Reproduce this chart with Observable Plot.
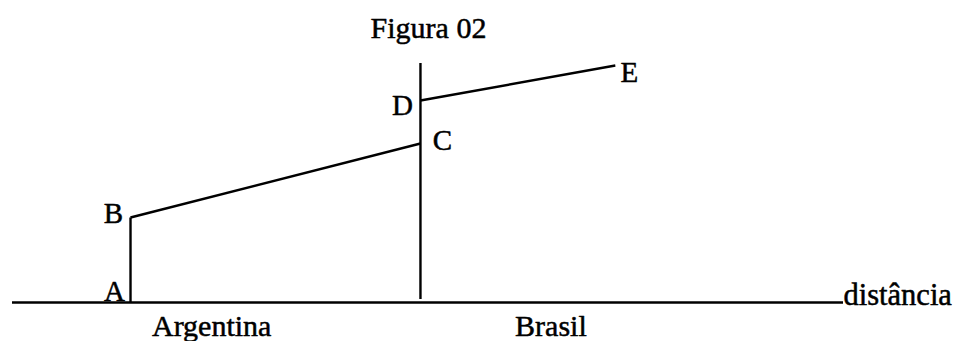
<!DOCTYPE html>
<html>
<head>
<meta charset="utf-8">
<script src="https://cdn.jsdelivr.net/npm/d3@7"></script>
<script src="https://cdn.jsdelivr.net/npm/@observablehq/plot@0.6"></script>
<style>
  html, body { margin: 0; padding: 0; background: #fff; }
  #chart svg { display: block; }
</style>
</head>
<body>
<div id="chart"></div>
<script>
// Points of the figure (distance, value)
const pointNames = ["A", "B", "C", "D", "E"];
const pointX = [0, 0, 100, 100, 167.2];
const pointY = [0, 85, 159, 202, 237];
// Segments drawn between named points
const segmentFrom = ["A", "B", "D"];
const segmentTo = ["B", "C", "E"];
// Border (frontier) position and extent
const borderX = 100;
const borderY = [3, 239];
// Distance axis extent
const axisX = [-40.7, 245.9];
const axisLabel = "distância";
// Regions
const regionNames = ["Argentina", "Brasil"];
const regionX = [28, 145];
const title = "Figura 02";

const pts = pointNames.map((n, i) => ({name: n, x: pointX[i], y: pointY[i]}));
const byName = Object.fromEntries(pts.map(p => [p.name, p]));
const segs = segmentFrom.map((f, i) => ({
  x1: byName[f].x, y1: byName[f].y, x2: byName[segmentTo[i]].x, y2: byName[segmentTo[i]].y
}));
const regions = regionNames.map((n, i) => ({name: n, x: regionX[i]}));

const font = "'Liberation Serif', 'Times New Roman', serif";
const labelOffsets = {A: [-16, -11], B: [-17, -4], C: [22, -3], D: [-18, 5], E: [14, 7]};
const ink = {fill: "#000", stroke: "#000", strokeWidth: 0.5};

const marks = [
  Plot.ruleY([0], {x1: axisX[0], x2: axisX[1], stroke: "#000", strokeWidth: 2.4}),
  Plot.ruleX([borderX], {y1: borderY[0], y2: borderY[1], stroke: "#000", strokeWidth: 2.4}),
  Plot.link(segs, {x1: "x1", y1: "y1", x2: "x2", y2: "y2", stroke: "#000", strokeWidth: 2.4}),
  Plot.text([axisLabel], {x: axisX[1], y: 0, text: d => d, textAnchor: "start", lineAnchor: "bottom", dy: 2, fontSize: 30.5, ...ink}),
  Plot.text(regions, {x: "x", frameAnchor: "bottom", text: "name", lineAnchor: "bottom", dy: 33, fontSize: 30, ...ink}),
  Plot.text([title], {x: borderX, frameAnchor: "top", text: d => d, lineAnchor: "bottom", dx: 8, dy: -26, fontSize: 30, ...ink})
];
for (const p of pts) {
  const [dx, dy] = labelOffsets[p.name];
  marks.push(Plot.text([p], {x: "x", y: "y", text: "name", dx, dy, fontSize: 29, ...ink}));
}

const chart = Plot.plot({
  width: 958,
  height: 341,
  marginLeft: 12,
  marginRight: 115,
  marginTop: 63,
  marginBottom: 39,
  x: {domain: axisX, axis: null},
  y: {domain: [0, 239], axis: null},
  style: {fontFamily: font, background: "#fff", overflow: "visible"},
  marks
});
document.getElementById("chart").appendChild(chart);
</script>
</body>
</html>
